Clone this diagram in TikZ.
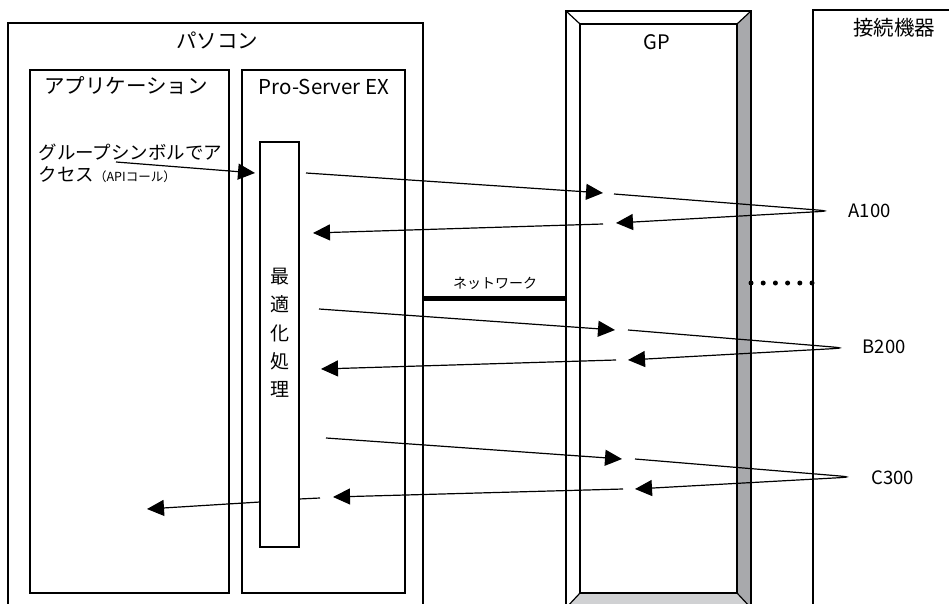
\documentclass[tikz,border=0pt]{standalone}
\usepackage{fontspec}
\setmainfont{Noto Sans CJK JP}
\usetikzlibrary{arrows.meta}
\usetikzlibrary{calc}
\definecolor{gpdark}{RGB}{168,169,172}
\definecolor{gplight}{RGB}{208,209,211}

\begin{document}
\begin{tikzpicture}[x=1pt, y=-1pt, line width=1.2pt,
   msg/.style={-{Triangle[length=17pt,width=16pt]}},
   title/.style={font=\fontsize{20.5}{24}\selectfont, inner sep=0pt},
   device/.style={font=\fontsize{18.5}{22}\selectfont, anchor=west, inner sep=0pt}]
\useasboundingbox (0,0) rectangle (949,604);
\clip (0,0) rectangle (949,604);

% pc side
\draw (8,23) rectangle (423,620);
\draw (30,70) rectangle (229,593);
\draw (242,70) rectangle (405,593);
\node[title] (pc) at (217,40) {パソコン};
\node[title] (app) at (126,86) {アプリケーション};
\node[title] (pse) at (324,87) {Pro-Server EX};
\node[draw, 
   minimum width=39pt, 
   minimum height=405pt, 
   inner sep=0pt] (opt) at (279.5,344.5) {};
\node[font=\fontsize{19}{28.25}\selectfont, 
   align=center, 
   inner sep=0pt] (optlbl) at (280,333) {最\\適\\化\\処\\理};
\node[font=\fontsize{18.5}{23}\selectfont, 
   anchor=west, 
   inner sep=0pt] (call1) at (38,152) {グループシンボルでア};
\node[font=\fontsize{18.5}{23}\selectfont, 
   anchor=west, 
   inner sep=0pt] (call2) at (38,175) {クセス{\fontsize{12.5}{14}\selectfont （APIコール）}};

% GP
\fill[gpdark] (737,24) -- (751,11) -- (751,608) -- (737,593) -- cycle;
\fill[gplight] (580,593) -- (737,593) -- (751,608) -- (566,608) -- cycle;
\draw (566,11) rectangle (751,608);
\draw (580,24) rectangle (737,593);
\draw (566,11) -- (580,24) (751,11) -- (737,24)
      (566,608) -- (580,593) (751,608) -- (737,593);
\node[font=\fontsize{20}{24}\selectfont, inner sep=0pt] (gp) at (657,42) {GP};

% network
\coordinate (netL) at (423,298.5);
\coordinate (netR) at (566,298.5);
\draw[line width=5pt] (netL) -- (netR);
\node[font=\fontsize{14}{16}\selectfont, inner sep=0pt] (netlbl) at (495,283) {ネットワーク};

% devices
\draw (960,10) -- (813,10) -- (813,620);
\node[title] (dev) at (894,28) {接続機器};
\foreach \i in {0,...,5}
   \fill (751+12.2*\i,283) circle (2.5pt);

% API call
\coordinate (api0) at (116,162);
\coordinate (api1) at (255,173);
\draw[msg] (api0) -- (api1);

% A100
\coordinate (aOut0) at (306,173);
\coordinate (aOut1) at (603,193);
\coordinate (aLp0) at (614,194);
\coordinate (aPiv) at (830,211);
\coordinate (aLp1) at (616,223);
\coordinate (aBk0) at (603,224);
\coordinate (aBk1) at (313,233);
\draw[msg] (aOut0) -- (aOut1);
\draw[msg] (aLp0) -- ($(aLp0)!.9!(aPiv)$) .. controls (aPiv) and (aPiv) .. ($(aLp1)!.9!(aPiv)$) -- (aLp1);
\draw[msg] (aBk0) -- (aBk1);
\node[device] (a100) at (848,211) {A100};

% B200
\coordinate (bOut0) at (319,309);
\coordinate (bOut1) at (615,330);
\coordinate (bLp0) at (628,330);
\coordinate (bPiv) at (845,348);
\coordinate (bLp1) at (628,360);
\coordinate (bBk0) at (616,360);
\coordinate (bBk1) at (321,369);
\draw[msg] (bOut0) -- (bOut1);
\draw[msg] (bLp0) -- ($(bLp0)!.9!(bPiv)$) .. controls (bPiv) and (bPiv) .. ($(bLp1)!.9!(bPiv)$) -- (bLp1);
\draw[msg] (bBk0) -- (bBk1);
\node[device] (b200) at (862,347) {B200};

% C300
\coordinate (cOut0) at (326,438);
\coordinate (cOut1) at (622,459);
\coordinate (cLp0) at (635,459);
\coordinate (cPiv) at (852,477);
\coordinate (cLp1) at (635,489);
\coordinate (cBk0) at (623,489);
\coordinate (cBk1) at (333,497);
\coordinate (cRet0) at (320,498);
\coordinate (cRet1) at (299,499);
\coordinate (cRet2) at (260,502);
\coordinate (cRet3) at (147,509);
\draw[msg] (cOut0) -- (cOut1);
\draw[msg] (cLp0) -- ($(cLp0)!.9!(cPiv)$) .. controls (cPiv) and (cPiv) .. ($(cLp1)!.9!(cPiv)$) -- (cLp1);
\draw[msg] (cBk0) -- (cBk1);
\draw (cRet0) -- (cRet1);
\draw[msg] (cRet2) -- (cRet3);
\node[device] (c300) at (871,478) {C300};
\end{tikzpicture}
\end{document}
